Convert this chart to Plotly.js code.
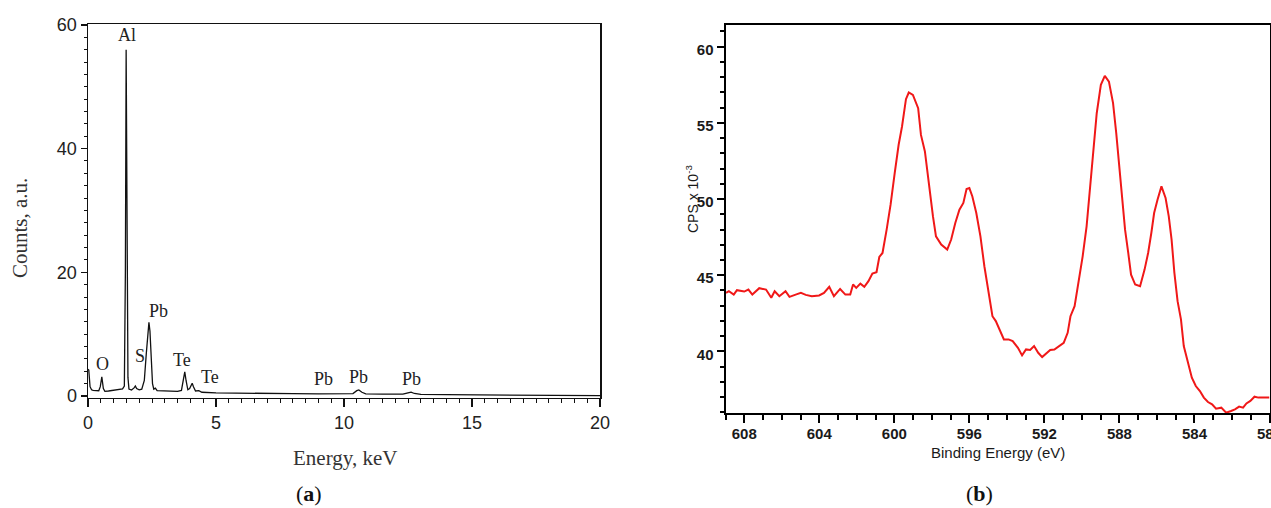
<!DOCTYPE html>
<html>
<head>
<meta charset="utf-8">
<script src="https://cdn.plot.ly/plotly-3.0.1.min.js"></script>
<style>
  html, body { margin: 0; padding: 0; background: #fff; }
  #chart { width: 1271px; height: 508px; }
</style>
</head>
<body>
<div id="chart"></div>
<script>
// ---------- (a) EDS spectrum ----------
const edsEnergy = [0.00, 0.03, 0.08, 0.14, 0.20, 0.30, 0.42, 0.48, 0.54, 0.60, 0.66, 0.80, 1.00, 1.20, 1.35, 1.42, 1.46, 1.49, 1.52, 1.56, 1.60, 1.70, 1.80, 1.85, 1.90, 2.00, 2.10, 2.20, 2.28, 2.33, 2.38, 2.42, 2.47, 2.52, 2.57, 2.63, 2.70, 2.90, 3.10, 3.30, 3.50, 3.65, 3.72, 3.78, 3.83, 3.90, 3.97, 4.03, 4.07, 4.12, 4.20, 4.33, 4.45, 5.00, 6.00, 7.00, 8.00, 9.00, 10.00, 10.35, 10.50, 10.58, 10.70, 10.85, 11.50, 12.30, 12.50, 12.62, 12.75, 13.00, 14.00, 15.00, 16.00, 17.00, 18.00, 19.00, 20.00];
const edsCounts = [4.3, 4.2, 1.5, 1.0, 0.9, 0.85, 0.85, 1.5, 3.1, 1.2, 0.75, 0.8, 0.9, 1.0, 1.15, 1.6, 20, 56, 30, 3, 1.1, 0.95, 1.3, 1.6, 1.2, 1.0, 1.1, 2.5, 7, 10, 11.9, 10.5, 5, 2.0, 1.1, 1.25, 0.85, 0.8, 0.75, 0.75, 0.75, 0.9, 2.5, 3.9, 2.5, 1.0, 1.2, 1.9, 2.05, 1.5, 0.8, 0.85, 0.6, 0.5, 0.42, 0.4, 0.37, 0.34, 0.32, 0.38, 0.85, 0.97, 0.6, 0.35, 0.3, 0.28, 0.5, 0.62, 0.4, 0.25, 0.2, 0.17, 0.14, 0.12, 0.1, 0.08, 0.05];

const peakNames = ["Al", "O", "S", "Pb", "Te", "Te", "Pb", "Pb", "Pb"];
const peakLabelX = [1.52, 0.56, 2.04, 2.76, 3.68, 4.77, 9.2, 10.57, 12.65];
const peakLabelY = [58.3, 5.1, 6.4, 13.8, 5.8, 3.1, 2.8, 3.0, 2.8];

// ---------- (b) XPS Te 3d spectrum ----------
const bindingEnergy = [608.97, 608.82, 608.56, 608.39, 608.00, 607.78, 607.57, 607.20, 606.84, 606.56, 606.38, 606.13, 605.80, 605.59, 605.26, 604.98, 604.72, 604.40, 604.01, 603.75, 603.47, 603.22, 602.89, 602.61, 602.35, 602.20, 602.03, 601.81, 601.60, 601.38, 601.17, 600.95, 600.80, 600.63, 600.41, 600.20, 599.98, 599.77, 599.59, 599.38, 599.23, 599.01, 598.73, 598.58, 598.37, 598.15, 597.94, 597.78, 597.50, 597.18, 596.97, 596.75, 596.53, 596.32, 596.15, 596.00, 595.84, 595.63, 595.41, 595.20, 595.03, 594.77, 594.59, 594.38, 594.16, 593.91, 593.69, 593.41, 593.19, 592.98, 592.76, 592.55, 592.33, 592.12, 591.90, 591.69, 591.47, 591.25, 590.97, 590.76, 590.61, 590.39, 590.18, 589.96, 589.75, 589.59, 589.42, 589.21, 588.99, 588.78, 588.56, 588.34, 588.17, 588.02, 587.87, 587.70, 587.53, 587.38, 587.16, 586.90, 586.66, 586.47, 586.30, 586.15, 585.97, 585.76, 585.54, 585.37, 585.22, 585.07, 584.90, 584.72, 584.57, 584.36, 584.14, 583.93, 583.71, 583.50, 583.28, 583.06, 582.85, 582.57, 582.31, 582.05, 581.84, 581.62, 581.41, 581.23, 581.02, 580.80, 580.59, 580.26, 580.00];
const cps = [43.84, 43.95, 43.73, 44.02, 43.93, 44.06, 43.73, 44.15, 44.06, 43.52, 43.95, 43.62, 43.95, 43.58, 43.73, 43.84, 43.71, 43.62, 43.67, 43.84, 44.24, 43.62, 44.10, 43.73, 43.73, 44.39, 44.17, 44.45, 44.24, 44.61, 45.11, 45.20, 46.20, 46.46, 47.99, 49.63, 51.70, 53.56, 54.76, 56.55, 56.99, 56.83, 55.96, 54.21, 53.12, 50.83, 48.86, 47.55, 47.01, 46.68, 47.34, 48.43, 49.30, 49.74, 50.66, 50.72, 50.17, 49.08, 47.55, 45.59, 44.28, 42.31, 41.99, 41.44, 40.79, 40.79, 40.68, 40.24, 39.74, 40.13, 40.09, 40.35, 39.91, 39.63, 39.87, 40.09, 40.13, 40.35, 40.57, 41.22, 42.31, 42.97, 44.50, 46.24, 48.21, 50.39, 52.58, 55.63, 57.49, 58.08, 57.71, 56.29, 54.32, 52.14, 49.96, 47.99, 46.46, 45.04, 44.39, 44.28, 45.37, 46.46, 47.77, 49.08, 49.96, 50.83, 50.07, 48.86, 47.34, 45.15, 43.30, 42.10, 40.35, 39.26, 38.28, 37.73, 37.40, 36.97, 36.68, 36.53, 36.24, 36.31, 35.98, 36.09, 36.20, 36.38, 36.31, 36.59, 36.75, 37.03, 36.97, 36.97, 36.97];

const W = 1271, H = 508;
const px = v => v / W;
const py = v => 1 - v / H;

const serif = "Liberation Serif, Times New Roman, serif";
const sans = "Liberation Sans, Arial, sans-serif";
const narrow = "Liberation Sans Narrow, Arial Narrow, Liberation Sans, Arial, sans-serif";

const traces = [
  {
    x: edsEnergy, y: edsCounts, type: "scatter", mode: "lines",
    line: { color: "#111", width: 1.3 }, xaxis: "x", yaxis: "y",
    hoverinfo: "x+y", showlegend: false
  },
  {
    x: bindingEnergy, y: cps, type: "scatter", mode: "lines",
    line: { color: "#f01818", width: 2 }, xaxis: "x2", yaxis: "y2",
    hoverinfo: "x+y", showlegend: false
  }
];

const annotations = peakNames.map((t, i) => ({
  x: peakLabelX[i], y: peakLabelY[i], xref: "x", yref: "y",
  text: t, showarrow: false, xanchor: "center", yanchor: "middle",
  font: { family: serif, size: 18, color: "#222" }
}));

annotations.push(
  { x: px(20), y: py(228), xref: "paper", yref: "paper", text: "Counts, a.u.", textangle: -90,
    showarrow: false, xanchor: "center", yanchor: "middle", font: { family: serif, size: 21, color: "#333" } },
  { x: px(345), y: py(458), xref: "paper", yref: "paper", text: "Energy, keV",
    showarrow: false, xanchor: "center", yanchor: "middle", font: { family: serif, size: 21, color: "#333" } },
  { x: px(309), y: py(493), xref: "paper", yref: "paper", text: "(<b>a</b>)",
    showarrow: false, xanchor: "center", yanchor: "middle", font: { family: serif, size: 22, color: "#111" } },
  { x: px(692), y: py(199), xref: "paper", yref: "paper", text: "CPS x 10<sup>-3</sup>", textangle: -90,
    showarrow: false, xanchor: "center", yanchor: "middle", font: { family: sans, size: 14, color: "#1a1a1a" } },
  { x: px(998), y: py(452), xref: "paper", yref: "paper", text: "Binding Energy (eV)",
    showarrow: false, xanchor: "center", yanchor: "middle", font: { family: sans, size: 15, color: "#1a1a1a" } },
  { x: px(979), y: py(493), xref: "paper", yref: "paper", text: "(<b>b</b>)",
    showarrow: false, xanchor: "center", yanchor: "middle", font: { family: serif, size: 22, color: "#111" } }
);

const layout = {
  width: W, height: H,
  margin: { l: 0, r: 0, t: 0, b: 0 },
  paper_bgcolor: "#fff", plot_bgcolor: "#fff",
  showlegend: false,
  xaxis: {
    domain: [px(88), px(600)], anchor: "y",
    range: [0, 20], tick0: 0, dtick: 5,
    showgrid: false, zeroline: false,
    showline: true, mirror: true, linecolor: "#111", linewidth: 1.5,
    ticks: "outside", ticklen: 8, tickwidth: 1.2, tickcolor: "#111",
    minor: { dtick: 0.5, ticks: "outside", ticklen: 4, tickwidth: 1, tickcolor: "#111", showgrid: false },
    tickfont: { family: sans, size: 18, color: "#222" }
  },
  yaxis: {
    domain: [py(397.5), py(24)], anchor: "x",
    range: [-0.25, 60.15], tick0: 0, dtick: 20,
    showgrid: false, zeroline: false,
    showline: true, mirror: true, linecolor: "#111", linewidth: 1.5,
    ticks: "outside", ticklen: 6, tickwidth: 1.2, tickcolor: "#111",
    minor: { dtick: 2, ticks: "outside", ticklen: 3, tickwidth: 1, tickcolor: "#111", showgrid: false },
    tickfont: { family: sans, size: 18, color: "#222" }
  },
  xaxis2: {
    domain: [px(725.5), px(1269.5)], anchor: "y2",
    range: [609, 580], tick0: 608, dtick: 4,
    showgrid: false, zeroline: false,
    showline: true, mirror: true, linecolor: "#000", linewidth: 2,
    ticks: "outside", ticklen: 8, tickwidth: 2, tickcolor: "#000",
    minor: { dtick: 1, ticks: "outside", ticklen: 5, tickwidth: 2, tickcolor: "#000", showgrid: false },
    ticklabeloverflow: "allow",
    ticklabelstandoff: -2,
    tickfont: { family: narrow, size: 15, color: "#1a1a1a", weight: "bold" }
  },
  yaxis2: {
    domain: [py(413), py(25)], anchor: "x2",
    range: [35.96, 61.42], tick0: 40, dtick: 5,
    showgrid: false, zeroline: false,
    showline: true, mirror: true, linecolor: "#000", linewidth: 2,
    ticks: "outside", ticklen: 7, tickwidth: 2, tickcolor: "#000",
    minor: { dtick: 1, ticks: "outside", ticklen: 4, tickwidth: 2, tickcolor: "#000", showgrid: false },
    ticklabelshift: 3,
    tickfont: { family: narrow, size: 15, color: "#1a1a1a", weight: "bold" }
  },
  annotations: annotations
};

Plotly.newPlot("chart", traces, layout, { staticPlot: true, displayModeBar: false });
</script>
</body>
</html>
